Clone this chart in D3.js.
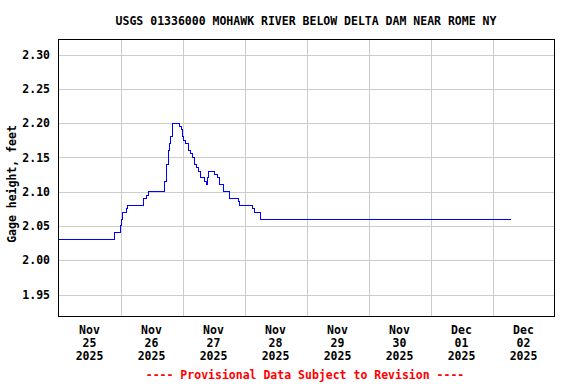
<!DOCTYPE html>
<html>
<head>
<meta charset="utf-8">
<script src="https://cdn.jsdelivr.net/npm/d3@7"></script>
<style>
  body { margin: 0; background: #fff; }
  svg { display: block; }
  text { font-family: "DejaVu Sans Mono", "Liberation Mono", monospace; font-weight: bold; font-size: 11.5px; fill: #000; }
</style>
</head>
<body>
<svg width="576" height="384"></svg>
<script>
// gage height readings (step changes)
const times = [
  "2025-11-25 00:00", "2025-11-25 21:30",
  "2025-11-26 00:00", "2025-11-26 00:15", "2025-11-26 00:45", "2025-11-26 02:15",
  "2025-11-26 02:45", "2025-11-26 09:00", "2025-11-26 10:15", "2025-11-26 11:00",
  "2025-11-26 17:00", "2025-11-26 17:45", "2025-11-26 18:45", "2025-11-26 19:00",
  "2025-11-26 19:15", "2025-11-26 20:00", "2025-11-26 20:15", "2025-11-26 23:00", "2025-11-26 23:30",
  "2025-11-27 00:00", "2025-11-27 00:30", "2025-11-27 01:15", "2025-11-27 02:30",
  "2025-11-27 03:00", "2025-11-27 03:45", "2025-11-27 04:30", "2025-11-27 05:30",
  "2025-11-27 06:00", "2025-11-27 07:00", "2025-11-27 08:30", "2025-11-27 09:15",
  "2025-11-27 09:45", "2025-11-27 10:15", "2025-11-27 12:30", "2025-11-27 13:30",
  "2025-11-27 14:30", "2025-11-27 16:00", "2025-11-27 18:00", "2025-11-27 21:45",
  "2025-11-27 22:15", "2025-11-28 03:15", "2025-11-28 04:00", "2025-11-28 06:15",
  "2025-12-02 07:15"
];
const heights = [
  2.03, 2.04,
  2.05, 2.06, 2.07, 2.075,
  2.08, 2.09, 2.095, 2.10,
  2.115, 2.14, 2.16, 2.17,
  2.18, 2.19, 2.20, 2.195, 2.19,
  2.18, 2.175, 2.17, 2.16,
  2.155, 2.15, 2.14, 2.135,
  2.13, 2.12, 2.115, 2.11,
  2.12, 2.13, 2.125, 2.12,
  2.11, 2.10, 2.09, 2.085,
  2.08, 2.075, 2.07, 2.06,
  2.06
];

const yTicks = [1.95, 2.00, 2.05, 2.10, 2.15, 2.20, 2.25, 2.30];
const xMonths = ["Nov", "Nov", "Nov", "Nov", "Nov", "Nov", "Dec", "Dec"];
const xDays = ["25", "26", "27", "28", "29", "30", "01", "02"];
const xYears = ["2025", "2025", "2025", "2025", "2025", "2025", "2025", "2025"];

const titleText = "USGS 01336000 MOHAWK RIVER BELOW DELTA DAM NEAR ROME NY";
const yLabel = "Gage height, feet";
const footer = "---- Provisional Data Subject to Revision ----";

const parse = d3.timeParse("%Y-%m-%d %H:%M");
const data = times.map((t, i) => ({ t: parse(t), v: heights[i] }));

const plotL = 58.5, plotR = 554.5, plotT = 39.5, plotB = 316.5;

const x = d3.scaleTime()
  .domain([parse("2025-11-25 00:00"), parse("2025-12-03 00:00")])
  .range([plotL, plotR]);

const y = d3.scaleLinear()
  .domain([1.95, 2.30])
  .range([294.5, 54.5]);

const svg = d3.select("svg");

// vertical gridlines at midnight
const days = d3.timeDay.range(parse("2025-11-26 00:00"), parse("2025-12-03 00:00"));
svg.append("g")
  .attr("transform", `translate(0,${plotB})`)
  .call(d3.axisBottom(x).tickValues(days).tickSize(-(plotB - plotT)).tickFormat(""))
  .call(g => g.select(".domain").remove())
  .call(g => g.selectAll("line").attr("stroke", "#cccccc").attr("shape-rendering", "crispEdges"));

// horizontal gridlines + labels
svg.append("g")
  .attr("transform", `translate(${plotL},0)`)
  .call(d3.axisLeft(y).tickValues(yTicks).tickSize(-(plotR - plotL)).tickPadding(8.5).tickFormat(d3.format(".2f")))
  .call(g => g.select(".domain").remove())
  .call(g => g.selectAll("line").attr("stroke", "#cccccc").attr("shape-rendering", "crispEdges"))
  .call(g => g.attr("font-family", null).attr("font-size", null))
  .call(g => g.selectAll("text").attr("fill", "#000"));

// the step line
svg.append("path")
  .datum(data)
  .attr("fill", "none")
  .attr("stroke", "#0000ff")
  .attr("stroke-width", 1)
  .attr("shape-rendering", "crispEdges")
  .attr("d", d3.line().curve(d3.curveStepAfter).x(d => x(d.t)).y(d => y(d.v)));

// frame
svg.append("rect")
  .attr("x", plotL).attr("y", plotT)
  .attr("width", plotR - plotL).attr("height", plotB - plotT)
  .attr("fill", "none").attr("stroke", "#000").attr("stroke-width", 1)
  .attr("shape-rendering", "crispEdges");

// date labels at noon of each day
const noons = xDays.map((d, i) => d3.timeHour.offset(parse("2025-11-25 12:00"), 24 * i));
const lab = svg.append("g").selectAll("text")
  .data(noons)
  .join("text")
  .attr("text-anchor", "middle")
  .attr("x", d => x(d))
  .attr("y", 334);
lab.append("tspan").attr("x", d => x(d)).text((d, i) => xMonths[i]);
lab.append("tspan").attr("x", d => x(d)).attr("dy", 13).text((d, i) => xDays[i]);
lab.append("tspan").attr("x", d => x(d)).attr("dy", 13).text((d, i) => xYears[i]);

// title
svg.append("text")
  .attr("x", 306).attr("y", 25)
  .attr("text-anchor", "middle")
  .text(titleText);

// y axis title
svg.append("text")
  .attr("transform", "translate(15.5,184) rotate(-90)")
  .attr("text-anchor", "middle")
  .text(yLabel);

// footer
svg.append("text")
  .attr("x", 305).attr("y", 379)
  .attr("text-anchor", "middle")
  .style("fill", "#ff0000")
  .text(footer);
</script>
</body>
</html>
